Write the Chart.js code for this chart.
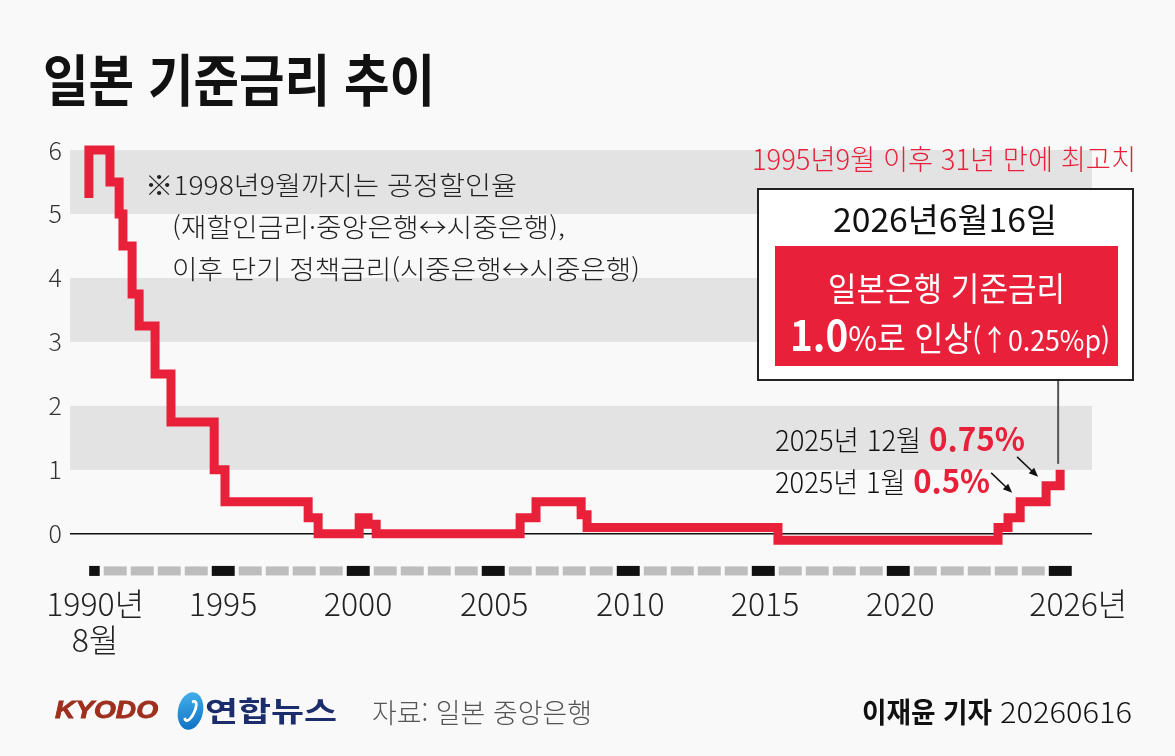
<!DOCTYPE html>
<html lang="ko">
<head>
<meta charset="utf-8">
<script src="https://cdn.jsdelivr.net/npm/chart.js@4.4.1/dist/chart.umd.min.js"></script>
<style>
html,body{margin:0;padding:0;background:#f9f9f9;}
#wrap{position:relative;width:1175px;height:756px;overflow:hidden;background:#f9f9f9;font-family:"Noto Sans CJK KR","Noto Sans",sans-serif;}
#c{position:absolute;left:0;top:0;}
.t{position:absolute;white-space:nowrap;line-height:1;transform-origin:0 50%;transform:translateY(-50%);}
.box{position:absolute;box-sizing:border-box;}
</style>
</head>
<body>
<div id="wrap">
<canvas id="c" width="1175" height="756"></canvas>

<div class="t" data-w="392" style="left:43px;top:77px;font-size:56px;font-weight:700;color:#111;">일본 기준금리 추이</div>

<div class="t" data-w="372" style="left:145px;top:184px;font-size:26px;font-weight:300;color:#222;">※1998년9월까지는 공정할인율</div>
<div class="t" data-w="393" style="left:172px;top:226px;font-size:26px;font-weight:300;color:#222;">(재할인금리·중앙은행↔시중은행),</div>
<div class="t" data-w="468" style="left:172px;top:268px;font-size:26px;font-weight:300;color:#222;">이후 단기 정책금리(시중은행↔시중은행)</div>

<div class="t" data-w="384" style="left:752px;top:158px;font-size:28px;font-weight:300;color:#e8203a;">1995년9월 이후 31년 만에 최고치</div>

<div class="box" style="left:757px;top:188px;width:377px;height:193px;border:2px solid #222;background:#fff;"></div>
<div class="box" style="left:775px;top:246px;width:343px;height:120px;background:#e8203a;"></div>
<div class="t" data-w="224" style="left:833px;top:218px;font-size:33px;font-weight:400;color:#111;">2026년6월16일</div>
<div class="t" data-w="237" style="left:828px;top:287px;font-size:33px;font-weight:400;color:#fff;">일본은행 기준금리</div>
<div class="t" data-w="320" style="left:790px;top:333px;font-size:34px;font-weight:400;color:#fff;"><span style="font-weight:700;font-size:42px;">1.0</span>%로 인상<span style="font-size:29px;">(↑0.25%p)</span></div>

<div class="t" data-w="250" style="left:775px;top:437px;font-size:28px;font-weight:300;color:#111;">2025년 12월 <span style="color:#e8203a;font-weight:700;font-size:32px;">0.75%</span></div>
<div class="t" data-w="215" style="left:775px;top:479px;font-size:28px;font-weight:300;color:#111;">2025년 1월 <span style="color:#e8203a;font-weight:700;font-size:32px;">0.5%</span></div>

<div class="t" data-w="103" style="left:55px;top:710px;font-size:23px;font-weight:700;font-style:italic;color:#9e2f1e;font-family:'Liberation Sans','DejaVu Sans',sans-serif;-webkit-text-stroke:0.8px #9e2f1e;">KYODO</div>
<div class="box" style="left:178px;top:692px;width:25px;height:38px;border-radius:50%;background:linear-gradient(160deg,#47b4ee,#0a6cc0);transform:rotate(12deg);"></div>
<div class="box" style="left:185px;top:699px;width:11px;height:24px;border-radius:50%;border:3px solid #fff;border-left-color:transparent;transform:rotate(25deg);"></div>
<div class="t" data-w="132" style="left:205px;top:710px;font-size:28px;font-weight:700;color:#1b2d6b;">연합뉴스</div>
<div class="t" data-w="220" style="left:372px;top:711px;font-size:27px;font-weight:300;color:#555;">자료: 일본 중앙은행</div>
<div class="t" data-w="130" style="left:862px;top:711px;font-size:28px;font-weight:700;color:#111;">이재윤 기자</div>
<div class="t" data-w="132" style="left:1000px;top:711px;font-size:28px;font-weight:300;color:#111;">20260616</div>
</div>

<script>
// ---- data ----
const dates = [1990.55, 1990.55, 1991.33, 1991.67, 1991.81, 1992.15, 1992.41, 1993.0, 1993.59, 1995.19, 1995.59, 1998.67, 1999.04, 2000.56, 2000.89, 2001.19, 2006.52, 2007.11, 2008.78, 2009.0, 2016.07, 2024.22, 2024.59, 2025.04, 2026.0, 2026.52];
const rates = [5.25, 6.0, 5.5, 5.0, 4.5, 3.75, 3.25, 2.5, 1.75, 1.0, 0.5, 0.25, 0.0, 0.25, 0.15, 0.0, 0.25, 0.5, 0.3, 0.1, -0.1, 0.1, 0.25, 0.5, 0.75, 1.0];
const yTickValues = [0, 1, 2, 3, 4, 5, 6];
const xTickValues = [1990.78, 1995.52, 2000.52, 2005.56, 2010.6, 2015.59, 2020.6, 2027.19];
const xTickLabels = [['1990년', '8월'], '1995', '2000', '2005', '2010', '2015', '2020', '2026년'];
const bandRanges = [[5, 6], [3, 4], [1, 2]];
const majorYears = [1990, 1995, 2000, 2005, 2010, 2015, 2020, 2026];
const arrowIdx = [23, 24];
const RED = '#e8203a';

function fitTexts() {
  document.querySelectorAll('.t[data-w]').forEach(el => {
    el.style.transform = 'translateY(-50%)';
    const w = el.getBoundingClientRect().width;
    const s = parseFloat(el.dataset.w) / w;
    el.style.transform = 'translateY(-50%) scaleX(' + s + ')';
  });
}
fitTexts();
if (document.fonts && document.fonts.ready) document.fonts.ready.then(fitTexts);

const decor = {
  id: 'decor',
  beforeDatasetsDraw(chart) {
    const {ctx, chartArea: a, scales: {x, y}} = chart;
    ctx.save();
    ctx.fillStyle = '#e3e3e4';
    bandRanges.forEach(([lo, hi]) => {
      const y1 = y.getPixelForValue(hi), y2 = y.getPixelForValue(lo);
      ctx.fillRect(a.left, y1, a.right - a.left, y2 - y1);
    });
    // zero line
    ctx.strokeStyle = '#111';
    ctx.lineWidth = 1.6;
    ctx.beginPath();
    const y0 = y.getPixelForValue(0);
    ctx.moveTo(a.left, y0); ctx.lineTo(a.right, y0);
    ctx.stroke();
    // year dashes
    const start = dates[0];
    const yd = y.getPixelForValue(-0.58);
    for (let yr = Math.floor(start); yr <= 2026; yr++) {
      const s = Math.max(yr + 0.1, start + 0.01);
      const e = yr + 0.95;
      const px1 = x.getPixelForValue(s), px2 = x.getPixelForValue(e);
      const major = majorYears.includes(yr);
      ctx.fillStyle = major ? '#111' : '#bdbdbd';
      const h = major ? 10 : 9;
      ctx.fillRect(px1, yd - h / 2, px2 - px1, h);
    }
    ctx.restore();
  },
  afterDatasetsDraw(chart) {
    const {ctx, scales: {x, y}} = chart;
    ctx.save();
    // connector from callout box to last point
    const li = dates.length - 1;
    const lx = x.getPixelForValue(dates[li]) - 2;
    ctx.strokeStyle = '#555';
    ctx.lineWidth = 2;
    ctx.beginPath();
    ctx.moveTo(lx, 381);
    ctx.lineTo(lx, y.getPixelForValue(rates[li]) - 6);
    ctx.stroke();
    // arrows
    ctx.strokeStyle = '#111';
    ctx.fillStyle = '#111';
    ctx.lineWidth = 1.5;
    arrowIdx.forEach(i => {
      const tx = x.getPixelForValue(dates[i]) - 8;
      const ty = y.getPixelForValue(rates[i]) - 9;
      const sx = tx - 21, sy = ty - 20;
      const ang = Math.atan2(ty - sy, tx - sx);
      ctx.beginPath();
      ctx.moveTo(sx, sy);
      ctx.lineTo(tx - 6 * Math.cos(ang), ty - 6 * Math.sin(ang));
      ctx.stroke();
      ctx.beginPath();
      ctx.moveTo(tx, ty);
      ctx.lineTo(tx - 10 * Math.cos(ang - 0.4), ty - 10 * Math.sin(ang - 0.4));
      ctx.lineTo(tx - 10 * Math.cos(ang + 0.4), ty - 10 * Math.sin(ang + 0.4));
      ctx.closePath();
      ctx.fill();
    });
    ctx.restore();
  }
};

new Chart(document.getElementById('c'), {
  type: 'line',
  data: {
    datasets: [{
      data: dates.map((d, i) => ({x: d, y: rates[i]})),
      borderColor: RED,
      borderWidth: 9,
      stepped: 'before',
      pointRadius: 0,
      fill: false,
      clip: false,
      borderCapStyle: 'butt',
      borderJoinStyle: 'miter'
    }]
  },
  options: {
    responsive: false,
    animation: false,
    events: [],
    layout: {padding: {left: 0, right: 83, top: 150, bottom: 91}},
    plugins: {legend: {display: false}, tooltip: {enabled: false}, title: {display: false}},
    scales: {
      x: {
        type: 'linear',
        min: 1989.85,
        max: 2027.7,
        grid: {display: false, drawTicks: false},
        border: {display: false},
        afterBuildTicks: s => { s.ticks = xTickValues.map(v => ({value: v})); },
        afterFit: s => { s.height = 80; },
        ticks: {
          autoSkip: false,
          maxRotation: 0,
          padding: 0,
          color: '#222',
          font: {family: '"Noto Sans CJK KR", "Noto Sans", sans-serif', size: 32, weight: 300, lineHeight: 1.15},
          callback: (v, i) => xTickLabels[i]
        }
      },
      y: {
        min: -0.8,
        max: 6,
        grid: {display: false, drawTicks: false},
        border: {display: false},
        afterBuildTicks: s => { s.ticks = yTickValues.map(v => ({value: v})); },
        afterFit: s => { s.width = 70; },
        ticks: {
          padding: 8,
          color: '#333',
          font: {family: '"Noto Sans CJK KR", "Noto Sans", sans-serif', size: 25, weight: 300},
          callback: v => String(v)
        }
      }
    }
  },
  plugins: [decor]
});
</script>
</body>
</html>
